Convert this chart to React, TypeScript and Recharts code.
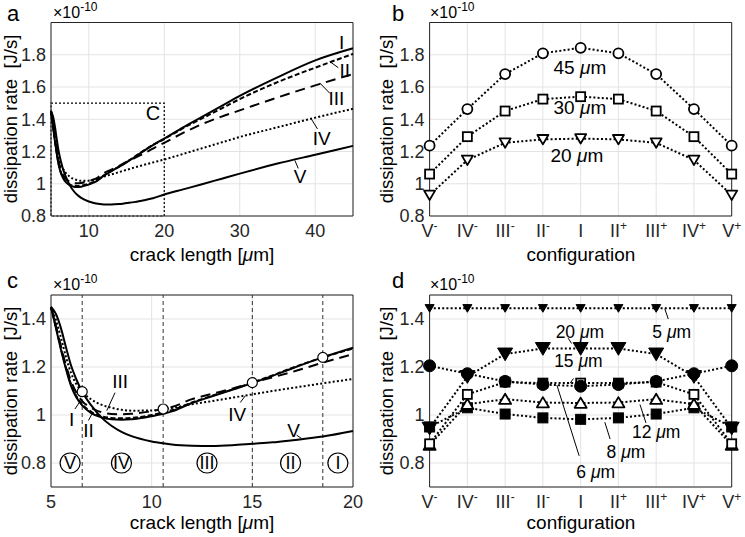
import React from 'react'
import {
  ComposedChart, Line, XAxis, YAxis, CartesianGrid,
  ReferenceLine, ReferenceArea, ReferenceDot,
} from 'recharts'

const W = 745
const H = 537
const FONT = '"Liberation Sans", Arial, Helvetica, sans-serif'
const INK = '#262626'
const GRID = '#e3e3e3'

// dissipation rate [1e-10 J/s] vs crack length [µm], one array per configuration
const crackLength = [5, 5.25, 5.5, 5.75, 6, 6.25, 6.55, 7, 7.5, 8, 8.5, 9, 10, 10.57, 11, 12, 13, 14, 15, 16, 17, 18.5, 20, 22.5, 25, 27.5, 30, 35, 40, 45]
const curveI = [1.45, 1.36, 1.27, 1.19, 1.12, 1.075, 1.04, 1.008, 0.99, 0.982, 0.98, 0.982, 0.995, 1.005, 1.015, 1.05, 1.078, 1.105, 1.133, 1.163, 1.195, 1.24, 1.28, 1.35, 1.415, 1.48, 1.545, 1.66, 1.765, 1.84]
const curveII = [1.45, 1.365, 1.275, 1.195, 1.127, 1.08, 1.045, 1.013, 0.995, 0.988, 0.986, 0.988, 1.0, 1.01, 1.02, 1.052, 1.08, 1.106, 1.135, 1.165, 1.197, 1.24, 1.277, 1.345, 1.405, 1.465, 1.525, 1.63, 1.72, 1.805]
const curveIII = [1.45, 1.37, 1.285, 1.205, 1.14, 1.095, 1.058, 1.03, 1.012, 1.004, 1.003, 1.005, 1.016, 1.025, 1.033, 1.066, 1.088, 1.11, 1.135, 1.157, 1.18, 1.218, 1.254, 1.315, 1.37, 1.415, 1.455, 1.535, 1.61, 1.68]
const curveIV = [1.45, 1.395, 1.32, 1.24, 1.174, 1.13, 1.097, 1.065, 1.043, 1.03, 1.022, 1.018, 1.019, 1.025, 1.029, 1.045, 1.058, 1.072, 1.086, 1.1, 1.113, 1.132, 1.15, 1.185, 1.22, 1.255, 1.29, 1.35, 1.41, 1.465]
const curveV = [1.45, 1.42, 1.36, 1.28, 1.205, 1.15, 1.097, 1.04, 0.99, 0.955, 0.93, 0.912, 0.89, 0.882, 0.877, 0.872, 0.871, 0.874, 0.88, 0.886, 0.895, 0.91, 0.933, 0.965, 0.997, 1.03, 1.063, 1.125, 1.18, 1.235]

// region boundaries in panel c (where the maximum switches configuration)
const boundX = [6.55, 10.57, 15, 18.5]
const boundY = [1.097, 1.025, 1.135, 1.24]
const regionNames = ['V', 'IV', 'III', 'II', 'I']
const regionX = [5.95, 8.5, 12.75, 16.9, 19.25]

// configurations
const configs = ['V-', 'IV-', 'III-', 'II-', 'I', 'II+', 'III+', 'IV+', 'V+']
const b45 = [1.236, 1.463, 1.68, 1.809, 1.843, 1.809, 1.68, 1.463, 1.236]
const b30 = [1.06, 1.292, 1.451, 1.525, 1.54, 1.525, 1.451, 1.292, 1.06]
const b20 = [0.93, 1.147, 1.254, 1.275, 1.28, 1.275, 1.254, 1.147, 0.93]

const d5 = [1.445, 1.445, 1.445, 1.445, 1.445, 1.445, 1.445, 1.445, 1.445]
const d6 = [1.205, 1.172, 1.14, 1.127, 1.12, 1.127, 1.14, 1.172, 1.205]
const d8 = [0.95, 1.03, 1.004, 0.988, 0.982, 0.988, 1.004, 1.03, 0.95]
const d12 = [0.875, 1.045, 1.066, 1.052, 1.05, 1.052, 1.066, 1.045, 0.875]
const d15 = [0.88, 1.086, 1.137, 1.133, 1.133, 1.133, 1.137, 1.086, 0.88]
const d20 = [0.945, 1.16, 1.254, 1.277, 1.277, 1.277, 1.254, 1.16, 0.945]

// annotation text positions (data coords) and leader segments [x1, y1, x2, y2]
const notesA = [
  { t: 'I', x: 43.5, y: 1.88 }, { t: 'II', x: 43.9, y: 1.705 }, { t: 'III', x: 42.8, y: 1.53 },
  { t: 'IV', x: 40.85, y: 1.28 }, { t: 'V', x: 38, y: 1.044 },
]
const leadersA = [[42, 1.755, 43.05, 1.72], [40.6, 1.625, 41.95, 1.56], [39.5, 1.4, 40.3, 1.34], [37.3, 1.145, 37.75, 1.095]]
const notesC = [
  { t: 'III', x: 8.43, y: 1.14 }, { t: 'I', x: 6.03, y: 0.984 }, { t: 'II', x: 6.86, y: 0.936 },
  { t: 'IV', x: 14.25, y: 1.004 }, { t: 'V', x: 17.05, y: 0.936 },
]
const leadersC = [[8.18, 1.093, 7.77, 1.018], [6.19, 1.025, 6.43, 1.055], [6.86, 0.977, 7.03, 1.004], [14.4, 1.052, 14.65, 1.08], [17.2, 0.916, 17.45, 0.902]]
const notesB = [{ t: '45 μm', x: 3.98, y: 1.72 }, { t: '30 μm', x: 3.98, y: 1.478 }, { t: '20 μm', x: 3.9, y: 1.18 }]
const notesD = [
  { t: '20 μm', x: 3.98, y: 1.347 }, { t: '15 μm', x: 3.94, y: 1.226 }, { t: '5 μm', x: 6.41, y: 1.347 },
  { t: '12 μm', x: 6.0, y: 0.93 }, { t: '8 μm', x: 5.2, y: 0.846 }, { t: '6 μm', x: 4.4, y: 0.765 },
]
const leadersD = [[3.67, 1.32, 3.76, 1.298], [3.81, 1.152, 3.72, 1.132], [6.32, 1.4, 6.23, 1.442], [5.73, 0.967, 5.57, 1.044], [4.78, 0.9, 4.64, 0.97], [3.96, 0.83, 3.37, 1.125]]

const toRows = (xs: number[], ys: number[]) => xs.map((x, i) => ({ x, y: ys[i] }))
const cfgRows = (ys: number[]) => ys.map((y, i) => ({ x: i, y }))
const fmtY = (v: number) => (v === 1 ? '1' : v.toFixed(1))
const tickStyle = { fontSize: 18, fill: INK, fontFamily: FONT }

function CfgTick(props: any) {
  const { x, y, payload } = props
  const name = configs[payload.value] ?? ''
  const sign = name.endsWith('-') || name.endsWith('+') ? name.slice(-1) : ''
  const base = sign ? name.slice(0, -1) : name
  return (
    <text x={x} y={y} dy="0.71em" textAnchor="middle" fontSize={18} fill={INK} fontFamily={FONT}>
      {base}
      {sign && <tspan fontSize={12} dy={-7}>{sign}</tspan>}
    </text>
  )
}

function noteLabel(text: string, size = 19) {
  return (p: any) => {
    const vb = p.viewBox
    const cx = vb.x + (vb.width || 0) / 2
    const cy = vb.y + (vb.height || 0) / 2
    const parts = text.split('μ')
    return (
      <text x={cx} y={cy} dy="0.36em" textAnchor="middle" fontSize={size} fontFamily={FONT} fill="#000">
        {parts.length > 1 ? (
          <>
            {parts[0]}
            <tspan fontStyle="italic">μ</tspan>
            {parts[1]}
          </>
        ) : text}
      </text>
    )
  }
}

type Shape = 'circle' | 'square' | 'triDown' | 'triUp'
function marker(shape: Shape, size: number, filled: boolean, sw = 1.8) {
  return (p: any) => {
    const { cx, cy, index } = p
    if (cx == null || cy == null) return <g key={index} />
    const fill = filled ? '#000' : '#fff'
    const s = size / 2
    if (shape === 'circle') return <circle key={index} cx={cx} cy={cy} r={s} fill={fill} stroke="#000" strokeWidth={sw} />
    if (shape === 'square') return <rect key={index} x={cx - s} y={cy - s} width={size} height={size} fill={fill} stroke="#000" strokeWidth={sw} />
    if (shape === 'triDown') return <polygon key={index} points={`${cx - s},${cy - s * 0.8} ${cx + s},${cy - s * 0.8} ${cx},${cy + s * 0.9}`} fill={fill} stroke="#000" strokeWidth={sw} strokeLinejoin="round" />
    return <polygon key={index} points={`${cx - s},${cy + s * 0.8} ${cx + s},${cy + s * 0.8} ${cx},${cy - s * 0.9}`} fill={fill} stroke="#000" strokeWidth={sw} strokeLinejoin="round" />
  }
}

interface PanelProps {
  rect: [number, number, number, number]
  xDomain: [number, number]
  xTicks: number[]
  yDomain: [number, number]
  yTicks: number[]
  cfg?: boolean
  children: React.ReactNode
}

function Panel({ rect, xDomain, xTicks, yDomain, yTicks, cfg, children }: PanelProps) {
  const [x0, y0, x1, y1] = rect
  // axes get 1px so they still render; the margins absorb it
  return (
    <div style={{ position: 'absolute', left: 0, top: 0 }}>
      <ComposedChart width={W} height={H} margin={{ left: x0 - 1, top: y0, right: W - x1, bottom: H - y1 - 1 }}>
        <CartesianGrid stroke={GRID} strokeWidth={1} />
        <XAxis
          dataKey="x" type="number" domain={xDomain} ticks={xTicks} interval={0}
          height={1} axisLine={false} tickLine={false} tickSize={2} tickMargin={6}
          tick={cfg ? <CfgTick /> : tickStyle}
        />
        <YAxis
          type="number" domain={yDomain} ticks={yTicks} interval={0}
          width={1} axisLine={false} tickLine={false} tickSize={2} tickMargin={3}
          tick={tickStyle} tickFormatter={fmtY}
        />
        {children}
        <ReferenceArea x1={xDomain[0]} x2={xDomain[1]} y1={yDomain[0]} y2={yDomain[1]} fill="none" stroke={INK} strokeWidth={1} ifOverflow="visible" />
      </ComposedChart>
    </div>
  )
}

const curveStyles = [
  { key: 'V', ys: curveV, dash: undefined },
  { key: 'I', ys: curveI, dash: undefined },
  { key: 'II', ys: curveII, dash: '5 2.5' },
  { key: 'III', ys: curveIII, dash: '10 6' },
  { key: 'IV', ys: curveIV, dash: '2 2.2' },
]

function curves(maxX: number) {
  return curveStyles.map((c) => (
    <Line
      key={c.key}
      data={toRows(crackLength, c.ys).filter((r) => r.x <= maxX)}
      dataKey="y" type="monotone" stroke="#000" strokeWidth={2}
      strokeDasharray={c.dash} dot={false} activeDot={false} isAnimationActive={false}
    />
  ))
}

function leaders(list: number[][]) {
  return list.map((l, i) => (
    <ReferenceLine key={'ld' + i} segment={[{ x: l[0], y: l[1] }, { x: l[2], y: l[3] }]} stroke="#000" strokeWidth={1} />
  ))
}

function notes(list: { t: string; x: number; y: number }[], size = 19) {
  return list.map((n, i) => (
    <ReferenceDot key={'nt' + i} x={n.x} y={n.y} r={0} fill="none" stroke="none" label={noteLabel(n.t, size)} />
  ))
}

function dotted(ys: number[], key: string, mk: (p: any) => React.ReactElement) {
  return (
    <Line
      key={key} data={cfgRows(ys)} dataKey="y" type="linear" stroke="#000" strokeWidth={2}
      strokeDasharray="2 2.2" dot={mk} activeDot={false} isAnimationActive={false}
    />
  )
}

function circledShape(name: string) {
  return (p: any) => (
    <g>
      <circle cx={p.cx} cy={p.cy} r={10} fill="#fff" stroke="#000" strokeWidth={1.2} />
      <text x={p.cx} y={p.cy} dy="0.36em" textAnchor="middle" fontSize={18} fontFamily={FONT} fill="#000">{name}</text>
    </g>
  )
}

const rectA: [number, number, number, number] = [51, 22.5, 353, 216]
const rectB: [number, number, number, number] = [429.6, 22.5, 731.7, 216]
const rectC: [number, number, number, number] = [51, 295, 353, 487]
const rectD: [number, number, number, number] = [429.6, 295, 731.7, 487]
const cfgTicks = [0, 1, 2, 3, 4, 5, 6, 7, 8]

function Exponent({ x, y }: { x: number; y: number }) {
  return (
    <text x={x} y={y} fontSize={16} fill="#000">
      ×10<tspan fontSize={12} dy={-7}>-10</tspan>
    </text>
  )
}

function YTitle({ x, y }: { x: number; y: number }) {
  return (
    <text x={x} y={y} transform={`rotate(-90 ${x} ${y})`} textAnchor="middle" fontSize={18.5} fill="#000" style={{ whiteSpace: 'pre' }}>
      {'dissipation rate  [J/s]'}
    </text>
  )
}

function XTitle({ x, y, mu }: { x: number; y: number; mu?: boolean }) {
  return (
    <text x={x} y={y} textAnchor="middle" fontSize={19} fill="#000">
      {mu ? (
        <>
          crack length [<tspan fontStyle="italic">μ</tspan>m]
        </>
      ) : 'configuration'}
    </text>
  )
}

export default function App() {
  const boundRows = toRows(boundX, boundY)
  return (
    <div style={{ position: 'absolute', left: 0, top: 0, width: W, height: H, background: '#fff', fontFamily: FONT }}>
      {/* a */}
      <Panel rect={rectA} xDomain={[5, 45]} xTicks={[10, 20, 30, 40]} yDomain={[0.8, 2.0]} yTicks={[0.8, 1, 1.2, 1.4, 1.6, 1.8]}>
        <ReferenceArea x1={5} x2={20} y1={0.8} y2={1.5} fill="none" stroke="#000" strokeWidth={1.2} strokeDasharray="2 2" />
        {curves(45)}
        {leaders(leadersA)}
        {notes(notesA)}
        <ReferenceDot x={18.5} y={1.44} r={0} fill="none" stroke="none" label={noteLabel('C', 20)} />
      </Panel>

      {/* b */}
      <Panel rect={rectB} xDomain={[0, 8]} xTicks={cfgTicks} yDomain={[0.8, 2.0]} yTicks={[0.8, 1, 1.2, 1.4, 1.6, 1.8]} cfg>
        {dotted(b20, 'b20', marker('triDown', 11, false))}
        {dotted(b30, 'b30', marker('square', 9, false))}
        {dotted(b45, 'b45', marker('circle', 10, false))}
        {notes(notesB)}
      </Panel>

      {/* c */}
      <Panel rect={rectC} xDomain={[5, 20]} xTicks={[5, 10, 15, 20]} yDomain={[0.7, 1.5]} yTicks={[0.8, 1, 1.2, 1.4]}>
        {boundX.map((bx, i) => (
          <ReferenceLine key={'bd' + i} x={bx} stroke="#333" strokeWidth={1} strokeDasharray="4 3" />
        ))}
        {curves(20)}
        <Line data={boundRows} dataKey="y" stroke="none" dot={marker('circle', 10, false, 1.2)} activeDot={false} isAnimationActive={false} />
        {leaders(leadersC)}
        {notes(notesC)}
        {regionNames.map((r, i) => (
          <ReferenceDot key={'rg' + i} x={regionX[i]} y={0.8} r={10} shape={circledShape(r)} />
        ))}
      </Panel>

      {/* d */}
      <Panel rect={rectD} xDomain={[0, 8]} xTicks={cfgTicks} yDomain={[0.7, 1.5]} yTicks={[0.8, 1, 1.2, 1.4]} cfg>
        {dotted(d5, 'd5', marker('triDown', 9, true, 1))}
        {dotted(d8, 'd8', marker('square', 10, true, 1))}
        {dotted(d12, 'd12', marker('triUp', 12, false))}
        {dotted(d15, 'd15', marker('square', 9, false))}
        {dotted(d6, 'd6', marker('circle', 12, true, 1))}
        {dotted(d20, 'd20', marker('triDown', 15, true, 1))}
        {leaders(leadersD)}
        {notes(notesD, 17.5)}
      </Panel>

      <svg width={W} height={H} style={{ position: 'absolute', left: 0, top: 0, pointerEvents: 'none' }} fontFamily={FONT}>
        <text x={7} y={21} fontSize={22} fill="#000">a</text>
        <text x={392} y={21} fontSize={22} fill="#000">b</text>
        <text x={7} y={288} fontSize={22} fill="#000">c</text>
        <text x={392} y={288} fontSize={22} fill="#000">d</text>
        <Exponent x={53} y={18} />
        <Exponent x={430} y={18} />
        <Exponent x={53} y={290} />
        <Exponent x={430} y={290} />
        <YTitle x={17} y={119} />
        <YTitle x={393} y={119} />
        <YTitle x={17} y={391} />
        <YTitle x={393} y={391} />
        <XTitle x={202} y={261} mu />
        <XTitle x={581} y={261} />
        <XTitle x={202} y={529} mu />
        <XTitle x={581} y={529} />
      </svg>
    </div>
  )
}
